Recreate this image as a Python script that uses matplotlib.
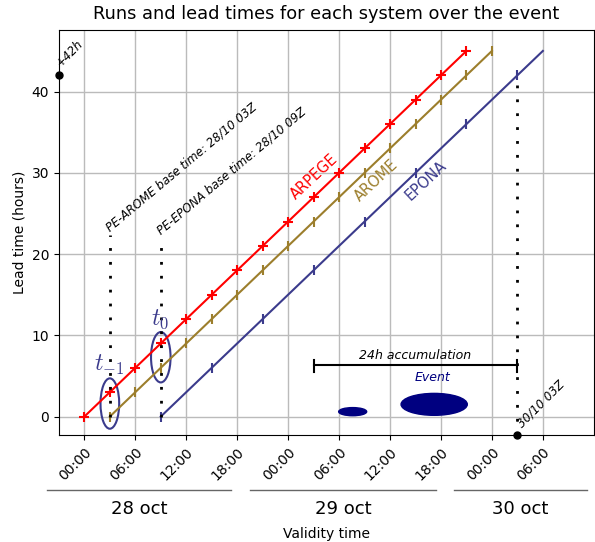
import matplotlib.pyplot as plt
from matplotlib.patches import Ellipse

plt.rcParams["mathtext.fontset"] = "cm"

# hours since 28 oct 00Z
lead = [0, 3, 6, 9, 12, 15, 18, 21, 24, 27, 30, 33, 36, 39, 42, 45]
arpege_valid = [0, 3, 6, 9, 12, 15, 18, 21, 24, 27, 30, 33, 36, 39, 42, 45]
arome_valid = [3, 6, 9, 12, 15, 18, 21, 24, 27, 30, 33, 36, 39, 42, 45, 48]
epona_lead = [0, 6, 12, 18, 24, 30, 36, 42, 45]
epona_valid = [9, 15, 21, 27, 33, 39, 45, 51, 54]
epona_marks = [9, 15, 21, 27, 33, 39, 45, 51]

xticks = [0, 6, 12, 18, 24, 30, 36, 42, 48, 54]
xticklabels = ["00:00", "06:00", "12:00", "18:00", "00:00", "06:00",
               "12:00", "18:00", "00:00", "06:00"]
days = ["28 oct", "29 oct", "30 oct"]
day_spans = [(-4.4, 17.3), (19.5, 41.4), (43.5, 59.2)]

c_arpege = "red"
c_arome = "#9c7e2c"
c_epona = "#3b3b8c"

fig = plt.figure(figsize=(5.95, 5.42), dpi=100)
ax = fig.add_axes([0.099, 0.197, 0.899, 0.748])

ax.plot(arpege_valid, lead, color=c_arpege, lw=1.5, marker="+", ms=7, mew=1.5)
ax.plot(arome_valid, lead, color=c_arome, lw=1.5, marker="|", ms=7, mew=1.5)
ax.plot(epona_valid, epona_lead, color=c_epona, lw=1.5)
ax.plot(epona_marks, epona_lead[:-1], color=c_epona, lw=0, marker="|", ms=7, mew=1.5)

ax.text(27.1, 29.5, "ARPEGE", color=c_arpege, rotation=43, ha="center", va="center", fontsize=10.5)
ax.text(34.4, 29.0, "AROME", color=c_arome, rotation=43, ha="center", va="center", fontsize=10.5)
ax.text(40.2, 29.0, "EPONA", color=c_epona, rotation=43, ha="center", va="center", fontsize=10.5)

# base times
ax.plot([3, 3], [0, 22.3], color="k", ls=(0, (1, 4)), lw=2)
ax.plot([9, 9], [0, 22.0], color="k", ls=(0, (1, 4)), lw=2)
ax.text(3.2, 22.4, "PE-AROME base time: 28/10 03Z", rotation=40, rotation_mode="anchor",
        ha="left", va="bottom", fontsize=8.5, style="italic")
ax.text(9.2, 22.1, "PE-EPONA base time: 28/10 09Z", rotation=40, rotation_mode="anchor",
        ha="left", va="bottom", fontsize=8.5, style="italic")

# runs used
ax.add_patch(Ellipse((3, 1.6), 2.2, 6.2, fill=False, ec=c_epona, lw=1.5))
ax.add_patch(Ellipse((9, 7.3), 2.3, 6.2, fill=False, ec=c_epona, lw=1.5))
ax.text(2.9, 6.3, "$t_{-1}$", color=c_epona, fontsize=17, ha="center", va="center")
ax.text(8.9, 12.0, "$t_0$", color=c_epona, fontsize=17, ha="center", va="center")

# event
ax.add_patch(Ellipse((31.6, 0.6), 3.3, 1.0, color="navy"))
ax.add_patch(Ellipse((41.2, 1.5), 7.8, 2.7, color="navy"))
ax.text(41.0, 4.8, "Event", color="navy", style="italic", ha="center", va="center", fontsize=9)

# accumulation window
ax.plot([27, 51], [6.3, 6.3], color="k", lw=1.5)
ax.plot([27, 27], [5.5, 7.0], color="k", lw=1.5)
ax.plot([51, 51], [5.5, 7.0], color="k", lw=1.5)
ax.text(39, 7.5, "24h accumulation", style="italic", ha="center", va="center", fontsize=9)

ax.plot([51, 51], [-2.25, 42], color="k", ls=(0, (1, 4)), lw=2)
ax.plot([51], [-2.25], "ko", ms=5, clip_on=False, zorder=5)
ax.text(51.8, -1.7, "30/10 03Z", rotation=45, rotation_mode="anchor", fontsize=8.5,
        style="italic", ha="left", va="bottom")
ax.plot([-3], [42], "ko", ms=5, clip_on=False, zorder=5)
ax.text(-2.5, 42.7, "+42h", rotation=45, rotation_mode="anchor", fontsize=8.5,
        style="italic", ha="left", va="bottom")

ax.set_xlim(-3, 60)
ax.set_ylim(-2.3, 47.6)
ax.set_xticks(xticks)
ax.set_xticklabels(xticklabels, rotation=45, ha="right", rotation_mode="anchor", fontsize=10)
ax.set_yticks([0, 10, 20, 30, 40])
ax.tick_params(axis="y", labelsize=10)
ax.grid(color="#bbbbbb", lw=1)
ax.set_axisbelow(True)
ax.set_ylabel("Lead time (hours)")
ax.set_title("Runs and lead times for each system over the event", fontsize=12.8, pad=8)

# day brackets below the axis
for name, (a, b) in zip(days, day_spans):
    ax.plot([a, b], [-9.0, -9.0], color="#666666", lw=1, clip_on=False)
    ax.text((a + b) / 2, -11.4, name, ha="center", va="center", fontsize=13)
ax.text(28.5, -14.4, "Validity time", ha="center", va="center", fontsize=10)

fig.savefig("out.png", dpi=100)
